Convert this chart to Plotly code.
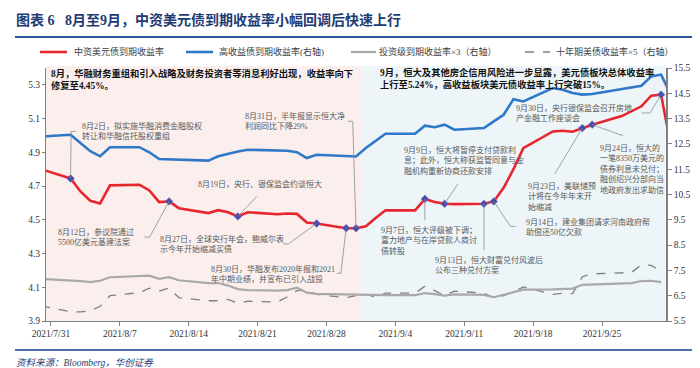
import plotly.graph_objects as go

# ---------------- data ----------------
dates = ["2021-07-30",
         "2021-08-02", "2021-08-03", "2021-08-04", "2021-08-05", "2021-08-06",
         "2021-08-09", "2021-08-10", "2021-08-11", "2021-08-12", "2021-08-13",
         "2021-08-16", "2021-08-17", "2021-08-18", "2021-08-19", "2021-08-20",
         "2021-08-23", "2021-08-24", "2021-08-25", "2021-08-26", "2021-08-27",
         "2021-08-30", "2021-08-31", "2021-09-01", "2021-09-02", "2021-09-03",
         "2021-09-06", "2021-09-07", "2021-09-08", "2021-09-09", "2021-09-10",
         "2021-09-13", "2021-09-14", "2021-09-15", "2021-09-16", "2021-09-17",
         "2021-09-20", "2021-09-21", "2021-09-22", "2021-09-23", "2021-09-24",
         "2021-09-27", "2021-09-28", "2021-09-29", "2021-09-30", "2021-10-01",
         "2021-10-04"]

cn_usd_ytm = [4.80,
              4.745, 4.668, 4.613, 4.597, 4.704,
              4.708, 4.674, 4.605, 4.609, 4.569,
              4.540, 4.557, 4.545, 4.520, 4.545,
              4.533, 4.537, 4.535, 4.484, 4.478,
              4.450, 4.450, 4.462, 4.510, 4.556,
              4.556, 4.624, 4.605, 4.595, 4.593,
              4.595, 4.609, 4.690, 4.800, 4.925,
              5.024, 5.028, 5.022, 5.044, 5.064,
              5.115, 5.145, 5.173, 5.236, 5.242,
              4.33]

hy_ytm = [12.79,
          12.86, 12.54, 12.21, 12.01, 12.37,
          12.37, 12.17, 11.90, 11.89, 11.88,
          11.84, 12.01, 12.11, 12.20, 12.27,
          12.25, 12.23, 12.17, 11.94, 12.07,
          12.01, 12.00, 12.34, 12.62, 12.90,
          12.90, 13.22, 13.16, 13.26, 13.06,
          13.13, 13.39, 13.65, 14.27, 14.18,
          14.71, 14.64, 14.51, 14.45, 14.47,
          14.66, 14.75, 14.80, 15.17, 15.24,
          12.84]

ig_ytm_x3 = [7.17,
             7.11, 7.08, 7.04, 7.09, 7.23,
             7.27, 7.29, 7.17, 7.23, 7.11,
             7.00, 7.00, 6.90, 6.76, 6.72,
             6.70, 6.72, 6.82, 6.62, 6.57,
             6.54, 6.53, 6.52, 6.52, 6.52,
             6.52, 6.60, 6.56, 6.50, 6.55,
             6.53, 6.44, 6.55, 6.65, 6.74,
             6.75, 6.77, 6.78, 6.93, 6.95,
             7.00, 7.00, 7.08, 7.09, 7.04]

ust10_x5 = [6.10,
            5.87, 5.86, 5.90, 6.08, 6.50,
            6.62, 6.80, 6.68, 6.80, 6.42,
            6.30, 6.30, 6.35, 6.20, 6.28,
            6.25, 6.45, 6.70, 6.72, 6.55,
            6.42, 6.50, 6.55, 6.45, 6.60,
            6.60, 6.87, 6.70, 6.50, 6.68,
            6.60, 6.42, 6.50, 6.65, 6.85,
            6.55, 6.60, 6.58, 7.25, 7.36,
            7.40, 7.42, 7.72, 7.70, 7.46]

series_names = ["中资美元债到期收益率", "高收益债到期收益率(右轴)",
                "投资级到期收益率×3（右轴）", "十年期美债收益率×5（右轴）"]

left_ticks = [3.9, 4.1, 4.3, 4.5, 4.7, 4.9, 5.1, 5.3]
right_ticks = [5.5, 6.5, 7.5, 8.5, 9.5, 10.5, 11.5, 12.5, 13.5, 14.5, 15.5]

event_dates = ["2021-08-02", "2021-08-12", "2021-08-19", "2021-08-27", "2021-08-30",
               "2021-08-31", "2021-09-07", "2021-09-09", "2021-09-13", "2021-09-14",
               "2021-09-23", "2021-09-24", "2021-10-01"]

event_texts = [
    "8月2日，拟实施华融消费金融股权<br>转让和华融信托股权重组",
    "8月12日，参议院通过<br>5500亿美元基建法案",
    "8月19日，央行、银保监会约谈恒大",
    "8月27日，全球央行年会，鲍威尔表<br>示今年开始缩减买债",
    "8月30日，华融发布2020年报和2021<br>年中期业绩，并宣布已引入战投",
    "8月31日，半年报显示恒大净<br>利润同比下降29%",
    "9月7日，恒大评级被下调；<br>富力地产与在岸贷款人商讨<br>债转股",
    "9月9日，恒大将暂停支付贷款利<br>息；此外，恒大称获监管同意与金<br>融机构重新协商还款安排",
    "9月13日，恒大财富兑付风波后<br>公布三种兑付方案",
    "9月14日，建业集团请求河南政府帮<br>助偿还50亿欠款",
    "9月23日，美联储预<br>计将在今年年末开<br>始缩减",
    "9月24日，恒大的<br>一笔8350万美元的<br>债券利息未兑付；<br>融创绍兴分部向当<br>地政府发出求助信",
    "9月30日，央行银保监会召开房地<br>产金融工作座谈会",
]

header_aug = "8月，华融财务重组和引入战略及财务投资者等消息利好出现，收益率向下<br>修复至4.45%。"
header_sep = "9月，恒大及其他房企信用风险进一步显露，美元债板块总体收益率<br>上行至5.24%，高收益板块美元债收益率上行突破15%。"
title_text = "图表 6   8月至9月，中资美元债到期收益率小幅回调后快速上行"
source_text = "资料来源：Bloomberg，华创证券"

# ---------------- layout helpers (pixel geometry) ----------------
W, H = 700, 368
L, R, T, B = 38, 658, 60, 313


def pxx(px):
    return (px - L) / (R - L)


def pxy(py):
    return (B - py) / (B - T)


FONT = "Liberation Serif, Noto Sans CJK SC"
RED = "#E8262E"
BLUE = "#2F78C8"
GRAY = "#A9A9A9"
DGRAY = "#7F7F7F"
NAVY = "#1F3B73"

fig = go.Figure()

fig.add_trace(go.Scatter(x=dates[:len(ust10_x5)], y=ust10_x5, name=series_names[3], yaxis="y2",
                         mode="lines", line=dict(color=DGRAY, width=1.3, dash="dash")))
fig.add_trace(go.Scatter(x=dates[:len(ig_ytm_x3)], y=ig_ytm_x3, name=series_names[2], yaxis="y2",
                         mode="lines", line=dict(color=GRAY, width=2.2)))
fig.add_trace(go.Scatter(x=dates, y=hy_ytm, name=series_names[1], yaxis="y2",
                         mode="lines", line=dict(color=BLUE, width=2.6)))
fig.add_trace(go.Scatter(x=dates, y=cn_usd_ytm, name=series_names[0], yaxis="y",
                         mode="lines", line=dict(color=RED, width=2.6)))

lookup = dict(zip(dates, cn_usd_ytm))
ev_vals = [lookup[d] for d in event_dates]
fig.add_trace(go.Scatter(x=event_dates, y=ev_vals, mode="markers", yaxis="y", showlegend=False,
                         marker=dict(symbol="diamond", size=6, color="#4A4AA8",
                                     line=dict(color="#8080C8", width=0.5))))

# ---------------- background zones ----------------
shapes = [
    dict(type="rect", xref="x", yref="paper", x0="2021-07-30 12:00", x1="2021-08-31 12:00",
         y0=0, y1=pxy(58), fillcolor="#FBEFEE", line=dict(width=0), layer="below"),
    dict(type="rect", xref="x", yref="paper", x0="2021-08-31 12:00", x1="2021-10-01 12:00",
         y0=0, y1=pxy(58), fillcolor="#EDF5F8", line=dict(width=0), layer="below"),
    # title rule and bottom rule
    dict(type="line", xref="paper", yref="paper", x0=pxx(7), x1=pxx(695), y0=pxy(29), y1=pxy(29),
         line=dict(color="#2E5596", width=2)),
    dict(type="line", xref="paper", yref="paper", x0=pxx(7), x1=pxx(695), y0=pxy(342), y1=pxy(342),
         line=dict(color="#4A6FA8", width=2)),
]

# leader lines, in pixel offsets (screen dx, dy-down) from each event marker
leaders = [
    [(0.5, -47), (5, -47)],
    [(-19.4, 35.7), (-24.7, 35.7)],
    [(19, -20)],
    [(-28.3, 20.4), (-33.3, 20.4)],
    [(-5.3, 45), (-9.3, 45)],
    [(-3.3, -107), (-8.3, -107)],
    [(0, 21.3)],
    [(13.3, -19.7)],
    [(0, 46.3)],
    [(16.7, 25), (21.7, 25)],
    [(-27.7, 46)],
    [(30.6, 11)],
    [(-11, 18.3), (-19.4, 18.3)],
]
for d, v, pts in zip(event_dates, ev_vals, leaders):
    path = "M0,0" + "".join(" L{:.1f},{:.1f}".format(dx, -dy) for dx, dy in pts)
    shapes.append(dict(type="path", xref="x", yref="y", xsizemode="pixel", ysizemode="pixel",
                       xanchor=d, yanchor=v, path=path,
                       line=dict(color="#8C8C8C", width=0.8), layer="above"))

# legend samples (drawn manually)
leg_lines = [(32, 59, RED, 2.6, "solid"), (178, 205, BLUE, 2.6, "solid"),
             (343, 368, GRAY, 2.2, "solid"), (517, 542, DGRAY, 1.3, "dash")]
for x0, x1, c, w, dsh in leg_lines:
    shapes.append(dict(type="line", xref="paper", yref="paper", x0=pxx(x0), x1=pxx(x1),
                       y0=pxy(44), y1=pxy(44), line=dict(color=c, width=w, dash=dsh)))

annotations = []


def add_text(px, py, text, size, color="#595959", anchor="left", bold=False, italic=False):
    if bold:
        text = "<b>" + text + "</b>"
    if italic:
        text = "<i>" + text + "</i>"
    annotations.append(dict(xref="paper", yref="paper", x=pxx(px), y=pxy(py), text=text,
                            showarrow=False, xanchor=anchor, yanchor="middle", align="left",
                            font=dict(family=FONT, size=size, color=color), borderpad=0))


# event text positions (left x, block centre y) in pixels
event_pos = [(73, 123.4), (49, 228.7), (189, 175.7), (150.5, 236.3), (202, 265.5), (235.5, 112.7),
             (372, 232.4), (395, 152.6), (425.5, 257), (517, 218.7), (519, 188), (590.5, 160.5),
             (507, 105)]
for (px, py), t in zip(event_pos, event_texts):
    add_text(px, py, t, 8)

add_text(42, 71, header_aug, 9.3, color="#111111", bold=True)
add_text(371, 70, header_sep, 9.3, color="#111111", bold=True)
add_text(7, 12, title_text, 14, color=NAVY, bold=True)
add_text(7, 354, source_text, 9.5, color=NAVY, italic=True)

leg_text_x = [65, 210, 370, 547]
for x, n in zip(leg_text_x, series_names):
    add_text(x, 44, n, 9, color="#404040")

tickfont = dict(family=FONT, size=9.5, color="#333333")

fig.update_layout(
    width=W, height=H,
    margin=dict(l=L, r=W - R, t=T, b=H - B),
    paper_bgcolor="white", plot_bgcolor="white",
    showlegend=False,
    shapes=shapes, annotations=annotations,
    xaxis=dict(type="date", range=["2021-07-30 12:00", "2021-10-01 12:00"],
               tick0="2021-07-31", dtick=7 * 86400000, tickformat="%Y/%-m/%-d",
               ticks="outside", ticklen=4, tickcolor="#808080", showline=True,
               linecolor="#808080", linewidth=1, showgrid=False, zeroline=False,
               tickfont=tickfont),
    yaxis=dict(range=[3.9, 5.4], tickvals=left_ticks, ticktext=["{:.1f}".format(v) for v in left_ticks],
               ticks="outside", ticklen=3, tickcolor="#808080", showline=True, linecolor="#808080",
               linewidth=1, showgrid=False, zeroline=False, tickfont=tickfont),
    yaxis2=dict(range=[5.5, 15.5], overlaying="y", side="right", tickvals=right_ticks,
                ticktext=["{:.1f}".format(v) for v in right_ticks],
                ticks="outside", ticklen=4, tickcolor="#808080", showline=True, linecolor="#808080",
                linewidth=1.5, showgrid=False, zeroline=False, tickfont=tickfont),
)

fig.write_html("out.html")
